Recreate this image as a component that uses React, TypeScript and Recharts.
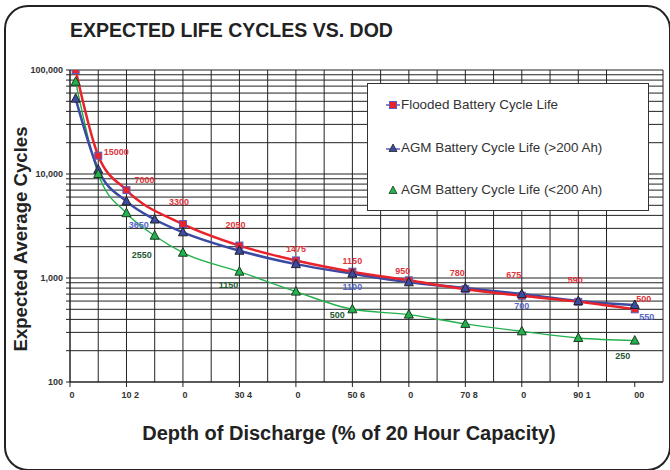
import { LineChart, Line, XAxis, YAxis, CartesianGrid, Legend } from "recharts"

// depth of discharge (%) and cycles
const floodedDod = [1, 5, 10, 20, 30, 40, 50, 60, 70, 80, 90, 100]
const floodedCycles = [100000, 15000, 7000, 3300, 2050, 1475, 1150, 950, 780, 675, 590, 500]

const agmDod = [1, 5, 10, 15, 20, 30, 40, 50, 60, 70, 80, 90, 100]
const agmLargeCycles = [53000, 11000, 5450, 3650, 2750, 1830, 1360, 1100, 910, 800, 700, 600, 550]
const agmSmallCycles = [77000, 10000, 4200, 2550, 1750, 1150, 740, 500, 445, 362, 307, 265, 250]

const seriesNames = [
  "Flooded Battery Cycle Life",
  "AGM Battery Cycle Life (>200 Ah)",
  "AGM Battery Cycle Life (<200 Ah)",
]

const xTicks = [0, 10, 20, 30, 40, 50, 60, 70, 80, 90, 100]
const xTickLabels = ["0", "10 2", "0", "30 4", "0", "50 6", "0", "70 8", "0", "90 1", "00"]
const yMajorTicks = [100, 1000, 10000, 100000]
const yTickLabels = ["100", "1,000", "10,000", "100,000"]

// which points carry a data label, and where it sits relative to the marker
const floodedLabelPos: Record<number, [number, number]> = {
  5: [18, -4], 10: [18, -10], 20: [-4, -22], 30: [-4, -21], 40: [0, -11], 50: [0, -11],
  60: [-6, -9], 70: [-8, -16], 80: [-8, -21], 90: [-3, -22], 100: [9, -10],
}
const agmLargeLabelPos: Record<number, [number, number]> = {
  15: [-16, 5], 50: [0, 13], 80: [0, 12], 100: [12, 12],
}
const agmSmallLabelPos: Record<number, [number, number]> = {
  15: [-13, 19], 30: [-11, 13], 50: [-15, 6], 100: [-12, 15],
}

const FONT = "'Liberation Sans', Arial, sans-serif"
const RED = "#e8232b"
const BLUE = "#3b4ba3"
const GREEN = "#22b14c"

const floodedData = floodedDod.map((d, i) => ({ dod: d, cycles: floodedCycles[i] }))
const agmLargeData = agmDod.map((d, i) => ({ dod: d, cycles: agmLargeCycles[i] }))
const agmSmallData = agmDod.map((d, i) => ({ dod: d, cycles: agmSmallCycles[i] }))

// log grid: 1..9 of every decade
const yGrid: number[] = []
for (const dec of [100, 1000, 10000]) for (let m = 1; m < 10; m++) yGrid.push(dec * m)
yGrid.push(100000)
const xGrid = Array.from({ length: 22 }, (_, i) => i * 5)

const Square = ({ cx, cy }: any) =>
  cx == null ? null : (
    <rect x={cx - 3.5} y={cy - 3.5} width={7} height={7} fill={RED} stroke="#5b5bc0" strokeWidth={1} />
  )

const triangle = (fill: string, stroke: string) => ({ cx, cy }: any) =>
  cx == null ? null : (
    <polygon
      points={`${cx},${cy - 5} ${cx + 4.5},${cy + 3.5} ${cx - 4.5},${cy + 3.5}`}
      fill={fill}
      stroke={stroke}
      strokeWidth={1}
    />
  )

const makeLabel = (dods: number[], pos: Record<number, [number, number]>, color: string) => (props: any) => {
  const { x, y, value, index } = props
  const off = pos[dods[index]]
  if (!off || x == null) return null
  return (
    <text
      x={x + off[0]}
      y={y + off[1] + 3}
      textAnchor="middle"
      fontSize={9}
      fontWeight="bold"
      fill={color}
      fontFamily={FONT}
    >
      {value}
    </text>
  )
}

const XTick = ({ x, y, payload }: any) => {
  const label = xTickLabels[xTicks.indexOf(payload.value)]
  const shift = label.startsWith("0") ? -0.5 : -5
  return (
    <text x={x + shift} y={y + 8.5} textAnchor="start" fontSize={9} fontWeight="bold" fill="#333" fontFamily={FONT}>
      {label}
    </text>
  )
}

const YTick = ({ x, y, payload }: any) => {
  const i = yMajorTicks.indexOf(payload.value)
  if (i < 0) return null
  return (
    <text x={x - 1} y={y + 3} textAnchor="end" fontSize={9} fontWeight="bold" fill="#333" fontFamily={FONT}>
      {yTickLabels[i]}
    </text>
  )
}

function LegendBox() {
  const rowStyle = (top: number): React.CSSProperties => ({
    position: "absolute",
    left: 18,
    top,
    display: "flex",
    alignItems: "center",
    fontFamily: FONT,
    fontSize: 13.4,
    color: "#333",
    whiteSpace: "nowrap",
    lineHeight: "16px",
  })
  return (
    <div
      style={{
        width: 282,
        height: 128,
        border: "1px solid #333",
        background: "#fff",
        boxSizing: "border-box",
        position: "relative",
      }}
    >
      <div style={rowStyle(13)}>
        <svg width={14} height={10} style={{ marginRight: 1 }}>
          <line x1={0} y1={5} x2={14} y2={5} stroke="#5b5bc0" strokeWidth={1.5} />
          <rect x={3.5} y={1.5} width={7} height={7} fill={RED} stroke="#5b5bc0" strokeWidth={1} />
        </svg>
        {seriesNames[0]}
      </div>
      <div style={rowStyle(56)}>
        <svg width={14} height={10} style={{ marginRight: 1 }}>
          <line x1={0} y1={6} x2={14} y2={6} stroke="#5b5bc0" strokeWidth={1.5} />
          <polygon points="7,1 11,8.5 3,8.5" fill={BLUE} stroke="#222" strokeWidth={0.8} />
        </svg>
        {seriesNames[1]}
      </div>
      <div style={rowStyle(98)}>
        <svg width={14} height={10} style={{ marginRight: 1 }}>
          <polygon points="7,1 11,8.5 3,8.5" fill={GREEN} stroke="#1a3a20" strokeWidth={0.8} />
        </svg>
        {seriesNames[2]}
      </div>
    </div>
  )
}

export default function App() {
  return (
    <div style={{ position: "absolute", left: 0, top: 0, width: 670, height: 470, overflow: "hidden", background: "#fff" }}>
      <div
        style={{
          position: "absolute",
          left: 4,
          top: 5,
          width: 667,
          height: 466,
          border: "2px solid #222",
          borderRadius: 24,
          boxSizing: "border-box",
        }}
      />
      <LineChart
        width={670}
        height={470}
        margin={{ top: 70, right: 7, left: 10, bottom: 58 }}
        style={{ position: "absolute", left: 0, top: 0 }}
      >
        <CartesianGrid stroke="#222" strokeWidth={1} horizontalValues={yGrid} verticalValues={xGrid} />
        <XAxis
          type="number"
          dataKey="dod"
          domain={[0, 105]}
          ticks={xTicks}
          height={30}
          allowDataOverflow
          tick={<XTick />}
          tickSize={5}
          tickMargin={2}
          axisLine={{ stroke: "#222" }}
          tickLine={{ stroke: "#222" }}
        />
        <YAxis
          type="number"
          dataKey="cycles"
          scale="log"
          domain={[100, 100000]}
          ticks={yGrid}
          interval={0}
          width={60}
          allowDataOverflow
          tick={<YTick />}
          tickSize={4}
          tickMargin={2}
          axisLine={{ stroke: "#222" }}
          tickLine={{ stroke: "#222" }}
        />
        <Legend
          layout="horizontal"
          verticalAlign="middle"
          align="center"
          content={() => <LegendBox />}
          wrapperStyle={{ position: "absolute", left: 367, top: 83, width: 282, height: 128 }}
        />
        {/* curves */}
        <Line data={agmSmallData} dataKey="cycles" type="monotone" stroke={GREEN} strokeWidth={1.4} dot={false} isAnimationActive={false} legendType="none" />
        <Line data={agmLargeData} dataKey="cycles" type="monotone" stroke={BLUE} strokeWidth={2.5} dot={false} isAnimationActive={false} legendType="none" />
        <Line data={floodedData} dataKey="cycles" type="monotone" stroke={RED} strokeWidth={2.5} dot={false} isAnimationActive={false} legendType="none" />
        {/* markers + labels */}
        <Line
          data={floodedData}
          dataKey="cycles"
          name={seriesNames[0]}
          stroke="none"
          dot={<Square />}
          label={makeLabel(floodedDod, floodedLabelPos, "#e0353c")}
          isAnimationActive={false}
        />
        <Line
          data={agmLargeData}
          dataKey="cycles"
          name={seriesNames[1]}
          stroke="none"
          dot={triangle(BLUE, "#222")}
          label={makeLabel(agmDod, agmLargeLabelPos, "#5666c4")}
          isAnimationActive={false}
        />
        <Line
          data={agmSmallData}
          dataKey="cycles"
          name={seriesNames[2]}
          stroke="none"
          dot={triangle(GREEN, "#1a3a20")}
          label={makeLabel(agmDod, agmSmallLabelPos, "#1e5a32")}
          isAnimationActive={false}
        />
      </LineChart>
      <svg width={670} height={470} style={{ position: "absolute", left: 0, top: 0, pointerEvents: "none" }}>
        <text x={70} y={36.5} fontSize={19.5} fontWeight="bold" fill="#222" fontFamily={FONT}>
          EXPECTED LIFE CYCLES VS. DOD
        </text>
        <text
          transform="translate(27,239) rotate(-90)"
          textAnchor="middle"
          fontSize={18.6}
          fontWeight="bold"
          fill="#222"
          fontFamily={FONT}
        >
          Expected Average Cycles
        </text>
        <text x={349} y={439.5} textAnchor="middle" fontSize={20} fontWeight="bold" fill="#222" fontFamily={FONT}>
          Depth of Discharge (% of 20 Hour Capacity)
        </text>
      </svg>
    </div>
  )
}
